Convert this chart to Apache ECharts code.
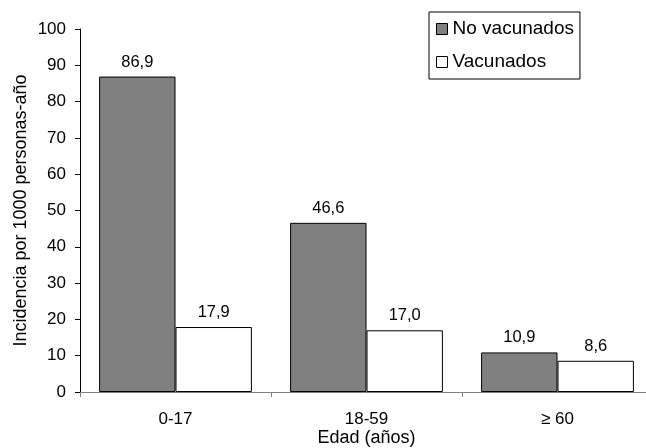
<!DOCTYPE html>
<html>
<head>
<meta charset="utf-8">
<script src="https://cdn.jsdelivr.net/npm/echarts@6/dist/echarts.min.js"></script>
<style>html,body{margin:0;padding:0;background:#fff}#c{width:646px;height:448px}</style>
</head>
<body>
<div id="c"></div>
<script>
const categories = ['0-17', '18-59', '\u2265 60'];
const noVacunados = [86.9, 46.6, 10.9];
const vacunados = [17.9, 17.0, 8.6];
const yTicks = [0, 10, 20, 30, 40, 50, 60, 70, 80, 90, 100];

const FONT = '"Liberation Sans", Arial, sans-serif';
const chart = echarts.init(document.getElementById('c'), null, {renderer: 'canvas'});
const fmt = p => p.value.toFixed(1).replace('.', ',');
chart.setOption({
  animation: false,
  backgroundColor: '#ffffff',
  textStyle: {fontFamily: FONT, color: '#000'},
  grid: {left: 80, right: -7, top: 29, bottom: 56, containLabel: false, outerBoundsMode: 'none'},
  legend: {
    orient: 'vertical',
    left: 429, top: 12,
    padding: [7, 6, 7, 7],
    itemGap: 13,
    itemWidth: 11, itemHeight: 11,
    borderColor: '#000', borderWidth: 1,
    icon: 'rect',
    textStyle: {fontFamily: FONT, fontSize: 19, lineHeight: 20, color: '#000'},
    data: [
      {name: 'No vacunados', itemStyle: {color: '#808080', borderColor: '#000', borderWidth: 1}},
      {name: 'Vacunados', itemStyle: {color: '#ffffff', borderColor: '#000', borderWidth: 1}}
    ]
  },
  xAxis: {
    type: 'category',
    data: categories,
    name: 'Edad (a\u00f1os)',
    nameLocation: 'middle',
    nameGap: 37,
    nameMoveOverlap: false,
    nameTextStyle: {fontFamily: FONT, fontSize: 18, lineHeight: 18, color: '#000', verticalAlign: 'top'},
    axisLine: {lineStyle: {color: '#808080', width: 1}},
    axisTick: {show: true, length: 5, lineStyle: {color: '#808080'}},
    axisLabel: {fontFamily: FONT, fontSize: 17, color: '#000', margin: 19}
  },
  yAxis: {
    type: 'value',
    min: yTicks[0], max: yTicks[yTicks.length - 1], interval: 10,
    name: 'Incidencia por 1000 personas-a\u00f1o',
    nameLocation: 'middle',
    nameGap: 50,
    nameRotate: 90,
    nameMoveOverlap: false,
    nameTextStyle: {fontFamily: FONT, fontSize: 18, color: '#000'},
    splitLine: {show: false},
    axisLine: {show: true, lineStyle: {color: '#000', width: 1}},
    axisTick: {show: true, length: 5, lineStyle: {color: '#000'}},
    axisLabel: {fontFamily: FONT, fontSize: 17, color: '#000', margin: 14}
  },
  series: [
    {
      name: 'No vacunados', type: 'bar', data: noVacunados,
      barWidth: '40%', barGap: '0%',
      itemStyle: {color: '#808080', borderColor: '#000', borderWidth: 1},
      label: {show: true, position: 'top', distance: 6, formatter: fmt,
        fontFamily: FONT, fontSize: 16.5, color: '#000'}
    },
    {
      name: 'Vacunados', type: 'bar', data: vacunados,
      barWidth: '40%', barGap: '0%',
      itemStyle: {color: '#ffffff', borderColor: '#000', borderWidth: 1},
      label: {show: true, position: 'top', distance: 6, formatter: fmt,
        fontFamily: FONT, fontSize: 16.5, color: '#000'}
    }
  ]
});
</script>
</body>
</html>
